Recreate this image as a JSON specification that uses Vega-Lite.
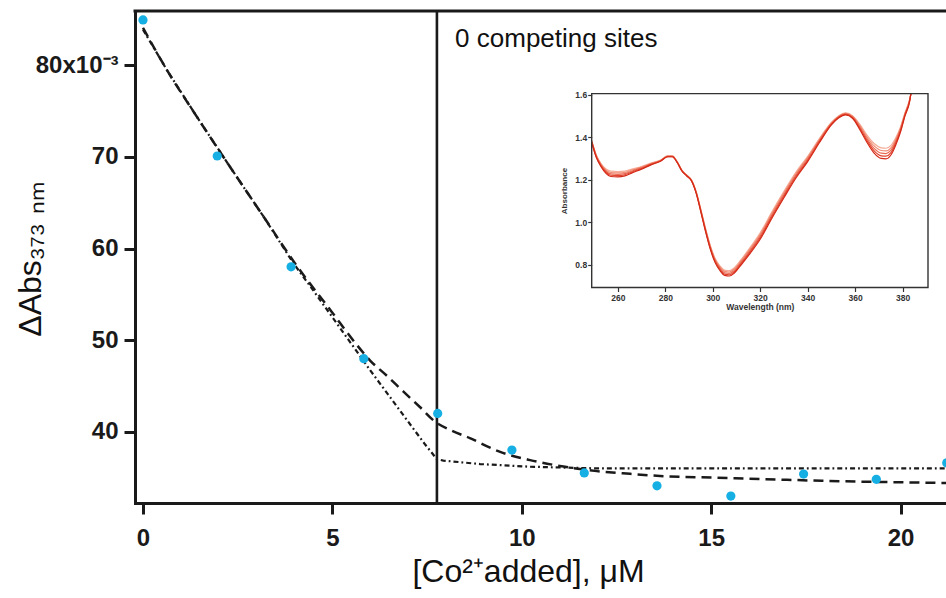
{
  "$schema": "https://vega.github.io/schema/vega-lite/v6.json",
  "width": 811,
  "height": 492,
  "autosize": "none",
  "padding": {"left": 135, "top": 11, "right": 0, "bottom": 95},
  "background": "white",
  "config": {"view": {"stroke": null}, "font": "Liberation Sans", "axis": {"grid": false}},
  "datasets": {
    "points": [
      {"x": 0, "y": 84.95}, {"x": 1.96, "y": 70.1}, {"x": 3.91, "y": 58.0}, {"x": 5.83, "y": 47.97},
      {"x": 7.78, "y": 42.0}, {"x": 9.74, "y": 38.0}, {"x": 11.65, "y": 35.5}, {"x": 13.57, "y": 34.1},
      {"x": 15.52, "y": 32.98}, {"x": 17.44, "y": 35.38}, {"x": 19.36, "y": 34.81}, {"x": 21.22, "y": 36.6}
    ],
    "fitDashed": [
      {"x": 0, "y": 84.1}, {"x": 0.63, "y": 79.5}, {"x": 1.42, "y": 74.4}, {"x": 2.3, "y": 68.9},
      {"x": 3.18, "y": 63.5}, {"x": 4.01, "y": 58.4}, {"x": 4.98, "y": 53.1}, {"x": 5.64, "y": 49.5},
      {"x": 5.99, "y": 47.8}, {"x": 6.44, "y": 46.1}, {"x": 6.87, "y": 44.4}, {"x": 7.31, "y": 42.7},
      {"x": 7.71, "y": 41.1}, {"x": 8.11, "y": 40.2}, {"x": 8.63, "y": 39.3}, {"x": 9.43, "y": 37.8},
      {"x": 10.22, "y": 36.9}, {"x": 11.1, "y": 36.2}, {"x": 11.98, "y": 35.7}, {"x": 12.86, "y": 35.4},
      {"x": 13.74, "y": 35.15}, {"x": 15.06, "y": 35.0}, {"x": 17.0, "y": 34.75}, {"x": 19.0, "y": 34.55},
      {"x": 21.3, "y": 34.4}
    ],
    "fitDashDot": [
      {"x": 0, "y": 83.9}, {"x": 0.63, "y": 79.5}, {"x": 1.42, "y": 74.4}, {"x": 2.3, "y": 68.9},
      {"x": 3.18, "y": 63.5}, {"x": 3.97, "y": 58.4}, {"x": 4.5, "y": 55.4}, {"x": 5.0, "y": 52.5},
      {"x": 5.5, "y": 49.6}, {"x": 6.0, "y": 46.7}, {"x": 6.5, "y": 43.9}, {"x": 7.0, "y": 41.1},
      {"x": 7.45, "y": 38.6}, {"x": 7.76, "y": 37.0}, {"x": 7.93, "y": 36.85}, {"x": 8.9, "y": 36.47},
      {"x": 10.22, "y": 36.18}, {"x": 11.98, "y": 36.0}, {"x": 15.24, "y": 36.0}, {"x": 21.3, "y": 36.0}
    ],
    "spectra": [
      {"wl": 249, "a": 1.385, "b": 1.3825, "c": 1.38, "d": 1.3775, "e": 1.375},
      {"wl": 251, "a": 1.315, "b": 1.312, "c": 1.309, "d": 1.306, "e": 1.303},
      {"wl": 253, "a": 1.275, "b": 1.271, "c": 1.2675, "d": 1.264, "e": 1.26},
      {"wl": 255, "a": 1.25, "b": 1.245, "c": 1.24, "d": 1.235, "e": 1.23},
      {"wl": 257, "a": 1.24, "b": 1.234, "c": 1.2275, "d": 1.221, "e": 1.215},
      {"wl": 260, "a": 1.238, "b": 1.232, "c": 1.2255, "d": 1.219, "e": 1.213},
      {"wl": 263, "a": 1.24, "b": 1.2345, "c": 1.229, "d": 1.2235, "e": 1.218},
      {"wl": 266, "a": 1.25, "b": 1.2455, "c": 1.241, "d": 1.2365, "e": 1.232},
      {"wl": 270, "a": 1.262, "b": 1.259, "c": 1.256, "d": 1.253, "e": 1.25},
      {"wl": 274, "a": 1.278, "b": 1.276, "c": 1.274, "d": 1.272, "e": 1.27},
      {"wl": 278, "a": 1.292, "b": 1.291, "c": 1.2895, "d": 1.288, "e": 1.287},
      {"wl": 281, "a": 1.312, "b": 1.311, "c": 1.31, "d": 1.309, "e": 1.308},
      {"wl": 283, "a": 1.312, "b": 1.311, "c": 1.31, "d": 1.309, "e": 1.308},
      {"wl": 285, "a": 1.285, "b": 1.284, "c": 1.283, "d": 1.282, "e": 1.281},
      {"wl": 287, "a": 1.245, "b": 1.244, "c": 1.243, "d": 1.242, "e": 1.241},
      {"wl": 289, "a": 1.222, "b": 1.221, "c": 1.22, "d": 1.219, "e": 1.218},
      {"wl": 291, "a": 1.2, "b": 1.199, "c": 1.1975, "d": 1.196, "e": 1.195},
      {"wl": 293, "a": 1.145, "b": 1.143, "c": 1.141, "d": 1.139, "e": 1.137},
      {"wl": 295, "a": 1.06, "b": 1.057, "c": 1.054, "d": 1.051, "e": 1.048},
      {"wl": 297, "a": 0.97, "b": 0.966, "c": 0.9625, "d": 0.959, "e": 0.955},
      {"wl": 299, "a": 0.89, "b": 0.8855, "c": 0.881, "d": 0.8765, "e": 0.872},
      {"wl": 301, "a": 0.83, "b": 0.825, "c": 0.82, "d": 0.815, "e": 0.81},
      {"wl": 303, "a": 0.795, "b": 0.7895, "c": 0.784, "d": 0.7785, "e": 0.773},
      {"wl": 305, "a": 0.775, "b": 0.769, "c": 0.7625, "d": 0.756, "e": 0.75},
      {"wl": 307, "a": 0.772, "b": 0.766, "c": 0.7595, "d": 0.753, "e": 0.747},
      {"wl": 309, "a": 0.785, "b": 0.779, "c": 0.7725, "d": 0.766, "e": 0.76},
      {"wl": 312, "a": 0.825, "b": 0.819, "c": 0.8125, "d": 0.806, "e": 0.8},
      {"wl": 316, "a": 0.885, "b": 0.878, "c": 0.871, "d": 0.864, "e": 0.857},
      {"wl": 320, "a": 0.95, "b": 0.9425, "c": 0.935, "d": 0.9275, "e": 0.92},
      {"wl": 325, "a": 1.05, "b": 1.0425, "c": 1.035, "d": 1.0275, "e": 1.02},
      {"wl": 330, "a": 1.145, "b": 1.1375, "c": 1.13, "d": 1.1225, "e": 1.115},
      {"wl": 335, "a": 1.235, "b": 1.228, "c": 1.221, "d": 1.214, "e": 1.207},
      {"wl": 340, "a": 1.31, "b": 1.304, "c": 1.2975, "d": 1.291, "e": 1.285},
      {"wl": 345, "a": 1.395, "b": 1.39, "c": 1.385, "d": 1.38, "e": 1.375},
      {"wl": 350, "a": 1.47, "b": 1.467, "c": 1.464, "d": 1.461, "e": 1.458},
      {"wl": 353, "a": 1.5, "b": 1.4975, "c": 1.495, "d": 1.4925, "e": 1.49},
      {"wl": 356, "a": 1.515, "b": 1.5125, "c": 1.51, "d": 1.5075, "e": 1.505},
      {"wl": 359, "a": 1.5, "b": 1.497, "c": 1.494, "d": 1.491, "e": 1.488},
      {"wl": 362, "a": 1.46, "b": 1.454, "c": 1.4475, "d": 1.441, "e": 1.435},
      {"wl": 365, "a": 1.41, "b": 1.401, "c": 1.3925, "d": 1.384, "e": 1.375},
      {"wl": 368, "a": 1.37, "b": 1.359, "c": 1.3475, "d": 1.336, "e": 1.325},
      {"wl": 371, "a": 1.35, "b": 1.3375, "c": 1.325, "d": 1.3125, "e": 1.3},
      {"wl": 373, "a": 1.348, "b": 1.3355, "c": 1.323, "d": 1.3105, "e": 1.298},
      {"wl": 375, "a": 1.36, "b": 1.349, "c": 1.3375, "d": 1.326, "e": 1.315},
      {"wl": 377, "a": 1.395, "b": 1.386, "c": 1.3775, "d": 1.369, "e": 1.36},
      {"wl": 379, "a": 1.445, "b": 1.439, "c": 1.4325, "d": 1.426, "e": 1.42},
      {"wl": 381, "a": 1.515, "b": 1.511, "c": 1.5075, "d": 1.504, "e": 1.5},
      {"wl": 383, "a": 1.58, "b": 1.5775, "c": 1.575, "d": 1.5725, "e": 1.57},
      {"wl": 383.5, "a": 1.605, "b": 1.605, "c": 1.605, "d": 1.605, "e": 1.605}
    ]
  },
  "layer": [
    {
      "layer": [
        {
          "data": {"name": "fitDashDot"},
          "mark": {"type": "line", "color": "#1a1a1a", "strokeWidth": 2.2, "strokeDash": [5, 3, 1.8, 3]},
          "encoding": {
            "x": {
              "field": "x", "type": "quantitative",
              "scale": {"domain": [-0.211, 21.2], "nice": false, "zero": false},
              "axis": {
                "orient": "bottom", "values": [0, 5, 10, 15, 20],
                "domainWidth": 3, "domainColor": "#1a1a1a", "domainCap": "square",
                "tickSize": 11, "tickWidth": 3, "tickColor": "#1a1a1a",
                "labelFont": "Liberation Sans", "labelFontSize": 24, "labelFontWeight": "bold", "labelColor": "#1a1a1a",
                "labelPadding": 12, "labelFlush": false,
                "title": "[Co²⁺added], μM", "titleFont": "Liberation Sans", "titleFontSize": 32, "titleFontWeight": "normal",
                "titleColor": "#111111", "titlePadding": 6, "titleX": 393
              }
            },
            "y": {
              "field": "y", "type": "quantitative",
              "scale": {"domain": [32.22, 85.93], "nice": false, "zero": false},
              "axis": {
                "orient": "left", "values": [40, 50, 60, 70, 80],
                "labelExpr": "datum.value == 80 ? '80x10⁻³' : datum.label",
                "domainWidth": 3, "domainColor": "#1a1a1a", "domainCap": "square",
                "tickSize": 11, "tickWidth": 3, "tickColor": "#1a1a1a",
                "labelFont": "Liberation Sans", "labelFontSize": 24, "labelFontWeight": "bold", "labelColor": "#1a1a1a",
                "labelPadding": 6,
                "title": "ΔAbs₃₇₃ ₙₘ", "titleFont": "Liberation Sans", "titleFontSize": 32, "titleFontWeight": "normal",
                "titleColor": "#111111", "titleAngle": 270, "titleBaseline": "alphabetic", "titleAlign": "center",
                "titleX": -95, "titleY": 248
              }
            }
          }
        },
        {
          "data": {"name": "fitDashed"},
          "mark": {"type": "line", "color": "#1a1a1a", "strokeWidth": 2.5, "strokeDash": [10, 6], "interpolate": "monotone"},
          "encoding": {
            "x": {"field": "x", "type": "quantitative"},
            "y": {"field": "y", "type": "quantitative"}
          }
        },
        {
          "data": {"values": [{}]},
          "mark": {"type": "rule", "color": "#1a1a1a", "strokeWidth": 2.6},
          "encoding": {"x": {"datum": 7.76, "type": "quantitative"}}
        },
        {
          "data": {"values": [{}]},
          "mark": {"type": "rule", "color": "#1a1a1a", "strokeWidth": 3, "strokeCap": "square"},
          "encoding": {"y": {"datum": 85.93, "type": "quantitative"}}
        },
        {
          "data": {"name": "points"},
          "mark": {"type": "point", "filled": true, "size": 85, "color": "#15afe3", "opacity": 1},
          "encoding": {
            "x": {"field": "x", "type": "quantitative"},
            "y": {"field": "y", "type": "quantitative"}
          }
        },
        {
          "data": {"values": [{}]},
          "mark": {"type": "text", "align": "left", "baseline": "alphabetic", "fontSize": 26, "font": "Liberation Sans", "color": "#111111"},
          "encoding": {
            "x": {"datum": 8.24, "type": "quantitative"},
            "y": {"datum": 82.0, "type": "quantitative"},
            "text": {"value": "0 competing sites"}
          }
        }
      ]
    },
    {
      "layer": [
        {
          "data": {"name": "spectra"},
          "transform": [{"fold": ["a", "b", "c", "d", "e"], "as": ["spectrum", "abs"]}],
          "mark": {"type": "line", "strokeWidth": 1.2, "interpolate": "monotone"},
          "encoding": {
            "x": {
              "field": "wl", "type": "quantitative",
              "scale": {"domain": [249, 390.7], "range": [456.7, 793], "nice": false, "zero": false},
              "axis": {
                "orient": "bottom", "offset": -215.5, "values": [260, 280, 300, 320, 340, 360, 380],
                "domain": false, "tickSize": 4, "tickWidth": 1.2, "tickColor": "#333333",
                "labelFont": "Liberation Sans", "labelFontSize": 8.5, "labelFontWeight": "bold", "labelColor": "#333333",
                "labelPadding": 2, "labelFlush": false,
                "title": "Wavelength (nm)", "titleFont": "Liberation Sans", "titleFontSize": 8.5, "titleFontWeight": "bold",
                "titleColor": "#333333", "titlePadding": 0
              }
            },
            "y": {
              "field": "abs", "type": "quantitative",
              "scale": {"domain": [0.693, 1.605], "range": [276.5, 82.6], "nice": false, "zero": false},
              "axis": {
                "orient": "left", "offset": -456.7, "values": [0.8, 1.0, 1.2, 1.4, 1.6], "format": ".1f",
                "domain": false, "tickSize": 4, "tickWidth": 1.2, "tickColor": "#333333",
                "labelFont": "Liberation Sans", "labelFontSize": 8.5, "labelFontWeight": "bold", "labelColor": "#333333",
                "labelPadding": 1, "labelFlush": false,
                "title": "Absorbance", "titleFont": "Liberation Sans", "titleFontSize": 8, "titleFontWeight": "bold",
                "titleColor": "#333333", "titlePadding": 6
              }
            },
            "color": {
              "field": "spectrum", "type": "nominal",
              "scale": {"domain": ["a", "b", "c", "d", "e"], "range": ["#f5ab96", "#f08a72", "#ea6a52", "#e2452f", "#d42a18"]},
              "legend": null
            }
          }
        },
        {
          "data": {"values": [{}]},
          "mark": {"type": "rect", "filled": false, "stroke": "#333333", "strokeWidth": 1.4},
          "encoding": {
            "x": {"datum": 249, "type": "quantitative"},
            "x2": {"datum": 390.7},
            "y": {"datum": 0.693, "type": "quantitative"},
            "y2": {"datum": 1.605}
          }
        }
      ]
    }
  ],
  "resolve": {
    "scale": {"x": "independent", "y": "independent", "color": "independent"},
    "axis": {"x": "independent", "y": "independent"}
  }
}
